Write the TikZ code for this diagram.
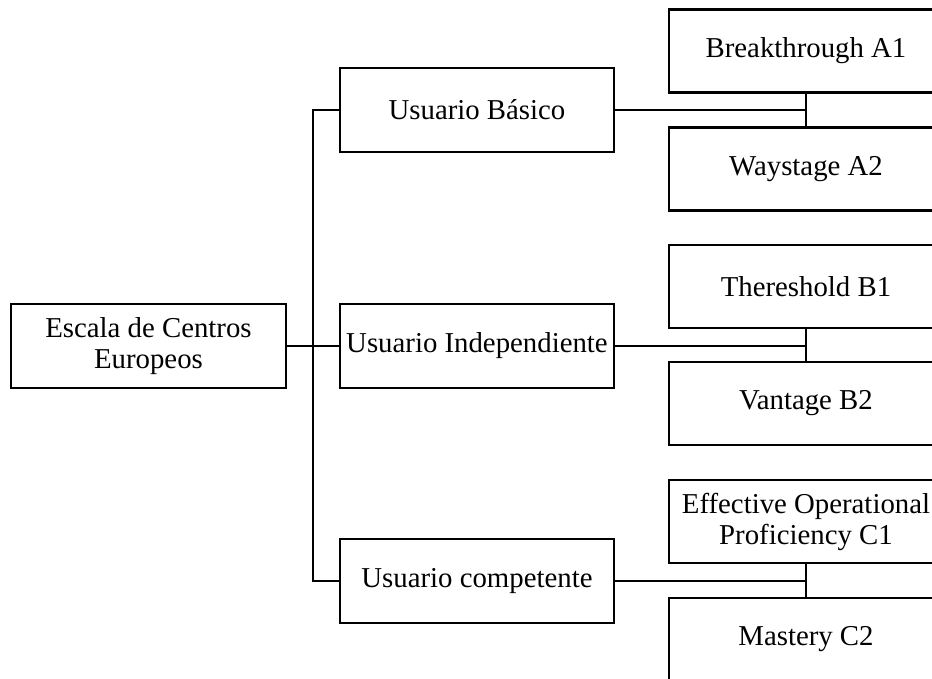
\documentclass[tikz,border=0pt]{standalone}
\usepackage{fontspec}
\setmainfont{Liberation Serif}
\usetikzlibrary{positioning}

\begin{document}
\begin{tikzpicture}
  \tikzset{level/.style={draw, line width=1.1pt, align=center, inner sep=1pt,
      outer sep=0pt, minimum width=137pt, minimum height=42pt,
      font=\fontsize{14.4pt}{15.5pt}\selectfont},
    link/.style={line width=1.1pt}}
  \useasboundingbox (-74.25pt,-166.5pt) rectangle (391.75pt,173pt);
  \clip (-74.25pt,-166.5pt) rectangle (391.75pt,173pt);
    \node[level, minimum width=137.5pt] (escala) {Escala de Centros\\Europeos};
    \node[level, right=27pt of escala] (indep) {Usuario Independiente};
    \node[level, above=76pt of indep] (basico) {Usuario Básico};
    \node[level, below=75.5pt of indep] (compet) {Usuario competente};
    % niveles A
    \node[level, right=27.5pt of basico, yshift=29.5pt, minimum height=41.5pt] (aone) {Breakthrough A1};
    \node[level, below=17.5pt of aone, minimum height=41.5pt] (atwo) {Waystage A2};
    % niveles B
    \node[level, right=27.5pt of indep, yshift=29.75pt, minimum height=41.5pt] (bone) {Thereshold B1};
    \node[level, below=17pt of bone, minimum height=41.5pt] (btwo) {Vantage B2};
    % niveles C
    \node[level, right=27.5pt of compet, yshift=29.75pt, minimum height=41.5pt] (cone) {Effective Operational\\Proficiency C1};
    \node[level, below=17.5pt of cone, minimum height=41.5pt] (ctwo) {Mastery C2};
    \draw[link] (escala.east) -- (indep.west);
    \draw[link] (basico.west) -- ++(-13.5pt,0) |- (compet.west);
    \draw[link] (basico.east) -- (basico.east -| aone.south);
    \draw[link] (aone.south) -- (atwo.north);
    \draw[link] (indep.east) -- (indep.east -| bone.south);
    \draw[link] (bone.south) -- (btwo.north);
    \draw[link] (compet.east) -- (compet.east -| cone.south);
    \draw[link] (cone.south) -- (ctwo.north);
\end{tikzpicture}
\end{document}
